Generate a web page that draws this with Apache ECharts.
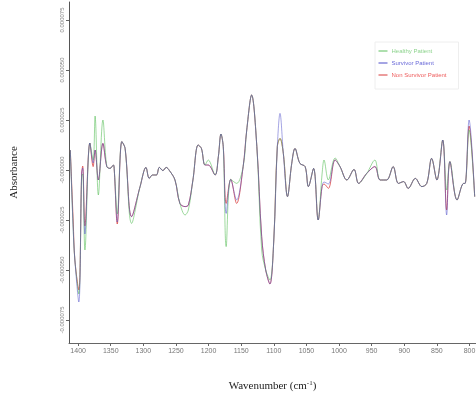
<!DOCTYPE html>
<html><head><meta charset="utf-8">
<script src="https://cdn.jsdelivr.net/npm/echarts@6/dist/echarts.min.js"></script>
<style>html,body{margin:0;padding:0;background:#fff}#c{width:476px;height:396px}</style>
</head><body><div id="c"></div>
<script>
// Wavenumber (cm-1), descending
const wavenumbers = [1412,1407.5,1405,1399,1394.6,1393,1389.6,1382,1377,1374,1369,1362,1356,1351,1346,1344.6,1340,1333,1328,1318,1305,1296,1291,1286,1280,1275.5,1270,1265,1260,1251.5,1244,1236,1231,1224,1216,1211,1205.5,1200.5,1190,1185,1181,1177.5,1173,1166,1157,1147,1141.5,1134,1126,1118.6,1112.4,1106,1100,1094.6,1090.5,1085.4,1079,1072.5,1067.5,1060,1052,1047,1039,1032,1026,1023,1016.4,1006,998.5,988,977,970,957.5,945,937,927,917,909,901,894,883,873,865.5,858,850,841,835,830,819,809,806.7,800.6,792];
// Absorbance in units of 1e-6
const healthy   = [10,-30,-45,-62,-3,-2,-40,13.5,5,27,-12.5,25,1.7,0.8,2.5,0,-22,14.2,10.8,-26.7,-8.3,1.3,-4.2,-2.5,-2.5,1.3,-0.3,1.3,-0.3,-5,-16.7,-22.5,-20,-5,12.5,10.8,2.5,5,-2.5,6.7,18,11.7,-38.3,-4.7,-6.7,1.7,20,37.5,11.7,-40,-50,-55,-35,11.7,15.8,8.3,-13.3,3.3,10.8,3.3,1.7,-8.3,0.8,-25,-2,5,-5,6,1.7,-5,0.3,-6.7,-1.7,5,-5,-5,1.7,-6.7,-5.8,-9.2,-4.2,-8.3,-6.7,5.8,-5,15,-10,4.2,-15,-6.7,-6.7,20,-13.3];
const survivor  = [10,-30,-45,-66,-1.5,1,-32,13.5,3.5,10,-5,13.3,1.7,0.8,2.5,0,-26,14.2,10.8,-23.3,-8.3,1.3,-4.2,-2.5,-2.5,1.3,-0.3,1.3,-0.3,-5,-16.7,-18.3,-17.5,-5,12.5,10.8,2.5,2.5,-2.5,6.7,18,11.7,-21.7,-4.7,-15,1.7,20,37.5,11.7,-33.3,-50,-57,-35,11.7,28.3,8.3,-13.3,3.3,10.8,3.3,1.7,-8.3,0.8,-25,-8.3,-6,-7,5,1.7,-5,0.3,-6.7,-1.7,1.7,-5,-5,1.7,-6.7,-5.8,-9.2,-4.2,-8.3,-6.7,5.8,-5,15,-22.5,4.2,-15,-6.7,-6.7,25,-13.3];
const nonSurvivor = [10,-26,-45,-60,-1.5,2,-28,13.5,1.7,10,-5,13.3,1.7,0.8,2.5,0,-27,14.2,10.8,-23.3,-8.3,1.3,-4.2,-2.5,-2.5,1.3,-0.3,1.3,-0.3,-5,-16.7,-18.3,-17.5,-5,12.5,10.8,2.5,2.5,-2.5,6.7,18,11.7,-16.7,-4.7,-16.7,1.7,20,37.5,11.7,-33.3,-50,-57,-35,11.7,15.8,8.3,-13.3,3.3,10.8,3.3,1.7,-8.3,0.8,-25,-8.3,-7,-9.2,5,1.7,-5,0.3,-6.7,-1.7,1.7,-5,-5,1.7,-6.7,-5.8,-9.2,-4.2,-8.3,-6.7,5.8,-5,15,-20,4.2,-15,-6.7,-6.7,22,-13.3];
const xTicks = [1400,1350,1300,1250,1200,1150,1100,1050,1000,950,900,850,800];
const yTicks = [0.000075,0.00005,0.000025,0,-0.000025,-0.00005,-0.000075];
const seriesNames = ['Healthy Patient','Survivor Patient','Non Survivor Patient'];
const seriesColors = ['#5cbf5c','#4a4ac8','#d83a3a'];
const legendTextColors = ['#8fd48f','#6a6ad8','#ee5c5c'];
const UNIT = 1e-6;

const values = [healthy, survivor, nonSurvivor];
const drawOrder = [2, 0, 1];
const opac = {0:0.6, 1:0.5, 2:0.75};
const chart = echarts.init(document.getElementById('c'), null, {renderer:'canvas'});
const fmtY = v => (Math.abs(v) < 1e-12 ? '-0.000000' : v.toFixed(6));
chart.setOption({
  animation:false,
  backgroundColor:'#fff',
  grid:{left:69,right:0,top:2,bottom:53,containLabel:false,outerBoundsMode:'none'},
  legend:{
    orient:'vertical', left:375, top:42,
    padding:[6,12,11,3], itemGap:6, itemWidth:9, itemHeight:7,
    borderColor:'#eeeeee', borderWidth:1,
    itemStyle:{opacity:0},
    lineStyle:{width:1, opacity:1},
    data: seriesNames.map((n,i)=>({name:n, textStyle:{color:legendTextColors[i]}})),
    textStyle:{fontSize:6, fontFamily:'Liberation Sans, Arial', padding:[0,0,0,-1]}
  },
  xAxis:{
    type:'value', inverse:true, min:790, max:1414,
    name:'{a|Wavenumber (cm}{s|-1}{a|)}', nameLocation:'middle', nameGap:37,
    nameTextStyle:{rich:{a:{fontFamily:'Liberation Serif, Times New Roman',fontSize:11,color:'#222'},s:{fontFamily:'Liberation Serif',fontSize:7,color:'#222',verticalAlign:'top',padding:[0,0,6,0]}}},
    axisLine:{onZero:false, lineStyle:{color:'#666',width:1}},
    axisTick:{customValues:xTicks, length:3, lineStyle:{color:'#666'}},
    axisLabel:{customValues:xTicks, fontSize:7, color:'#777', margin:5, fontFamily:'Liberation Sans, Arial', formatter:v=>String(v)},
    splitLine:{show:false}
  },
  yAxis:{
    type:'value', min:-0.0000865, max:0.000084,
    name:'Absorbance', nameLocation:'middle', nameGap:49, nameRotate:90,
    nameTextStyle:{fontFamily:'Liberation Serif, Times New Roman', fontSize:11, color:'#222'},
    axisLine:{show:true, lineStyle:{color:'#555',width:1}},
    axisTick:{customValues:yTicks, length:3, lineStyle:{color:'#666'}},
    axisLabel:{customValues:yTicks, rotate:90, fontSize:6, color:'#888', margin:4, formatter:fmtY, fontFamily:'Liberation Sans, Arial'},
    splitLine:{show:false}
  },
  series: drawOrder.map(i=>({
    name:seriesNames[i], type:'line', symbol:'none', smooth:0.35,
    color:seriesColors[i],
    lineStyle:{width:1, color:seriesColors[i], opacity:opac[i]},
    data: wavenumbers.map((w,k)=>[w, values[i][k]*UNIT])
  }))
});
</script></body></html>
